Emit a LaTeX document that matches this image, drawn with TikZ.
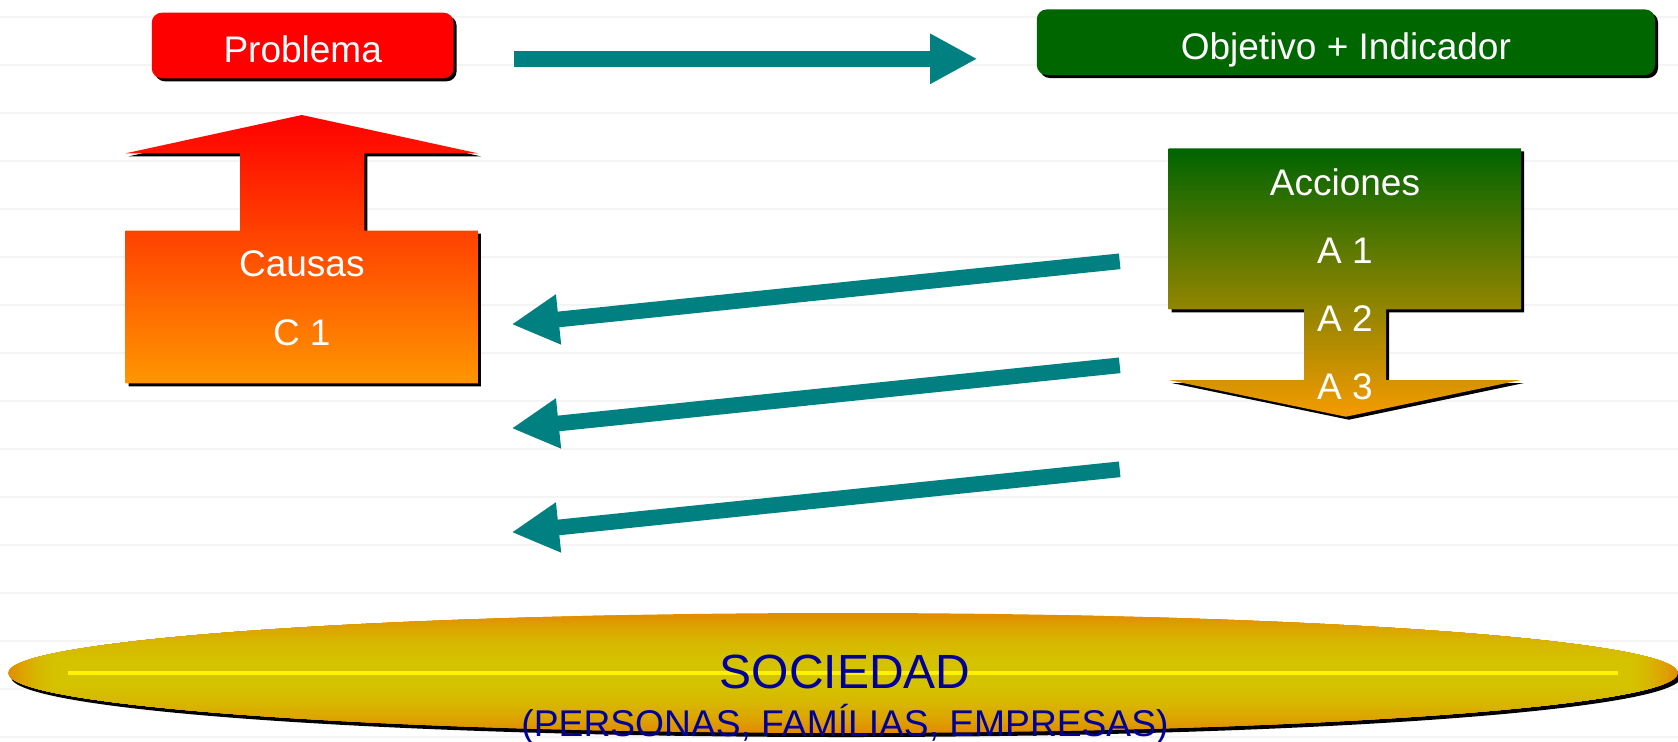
\documentclass[tikz,border=0pt]{standalone}
\usepackage{fontspec}
\setmainfont{Liberation Sans}
\usepackage{xcolor}
\usetikzlibrary{arrows.meta, shadows}

\definecolor{probred}{RGB}{255,0,0}
\definecolor{objgreen}{RGB}{0,102,0}
\definecolor{arrowteal}{RGB}{0,128,128}
\definecolor{causaorange}{RGB}{255,150,0}
\definecolor{accgreen}{RGB}{0,100,0}
\definecolor{accorange}{RGB}{245,155,0}
\definecolor{socout}{RGB}{226,140,0}
\definecolor{socin}{RGB}{212,196,0}
\definecolor{socblue}{RGB}{0,0,153}
\definecolor{ruleline}{RGB}{244,244,244}

\begin{document}
\begin{tikzpicture}[
  x=0.5pt, y=-0.5pt,
  font=\fontsize{18.5pt}{22pt}\selectfont,
  shadowed/.style={general shadow={fill=black, shadow xshift=1.5pt, shadow yshift=-1.5pt}},
  titlebox/.style={shadowed, rounded corners=5pt, text=white, inner sep=0pt, text height=17.2pt, text depth=0pt, minimum height=32.8pt},
  blocktext/.style={text=white, anchor=base, inner sep=0pt},
  soctext/.style={text=socblue, anchor=base, inner sep=0pt},
  line/.style={draw=arrowteal, line width=7.85pt, -{Triangle[length=23.6pt, width=23.5pt]}}
]
\useasboundingbox (0,0) rectangle (1678,741);

% Background: ruled lines
\foreach \k in {0,...,15}
  \draw[ruleline, line width=1pt] (0,{16.7+48*\k}) -- (1678,{16.7+48*\k});

% Row 1: Problema and Objetivo
\node[titlebox, fill=probred, minimum width=150.9pt] (prob) at (302.7,45.5) {Problema};
\node[titlebox, fill=objgreen, minimum width=309.1pt] (obj) at (1345.9,42.2) {Objetivo + Indicador};

\coordinate (probout) at (514,58.8);
\coordinate (objin) at (977.3,58.8);
\draw[line] (probout) -- (objin);

% Row 2: Causas (up) and Acciones (down)
\shade[shadowed, top color=probred, bottom color=causaorange]
  (301.8,115) -- (477.9,153.3) -- (364.3,153.3) -- (364.3,230.7) -- (477.9,230.7)
  -- (477.9,383.3) -- (125.7,383.3) -- (125.7,230.7) -- (240,230.7) -- (240,153.3)
  -- (125.7,153.3) -- cycle;
\node[blocktext] (causas) at (301.8,276.7) {Causas};
\node[blocktext] (c1) at (301.8,345) {C 1};

\shade[shadowed, top color=accgreen, bottom color=accorange]
  (1168.6,148.3) -- (1521,148.3) -- (1521,309.3) -- (1386,309.3) -- (1386,380)
  -- (1521,380) -- (1345.9,416.7) -- (1168.6,380) -- (1304,380) -- (1304,309.3)
  -- (1168.6,309.3) -- cycle;
\node[blocktext] (acciones) at (1345,195) {Acciones};
\foreach \t [count=\i] in {A 1, A 2, A 3}
  \node[blocktext] (acc\i) at (1345,{195+68*\i}) {\t};

% Arrows back from Acciones
\foreach \k in {0,1,2} {
  \coordinate (tail\k) at (1119.7,{261.3+104*\k});
  \coordinate (tip\k) at (511.6,{324.3+104*\k});
  \draw[line] (tail\k) -- (tip\k);
}

% Row 3: Sociedad
\fill[black] (846,677) ellipse [x radius=417.5pt, y radius=30pt];
\begin{scope}
  \clip (843,673) ellipse [x radius=417.5pt, y radius=30pt];
  \foreach \i in {0,...,29} {
    \pgfmathsetmacro\d{\i*2}
    \pgfmathsetmacro\p{100*(1-(1-\i/29)^2)}
    \fill[socin!\p!socout] ({8+\d},{613+\d}) rectangle ({1678-\d},{733-\d});
  }
  \fill[yellow] (68,671) rectangle (1618,675);
\end{scope}
\node[soctext, font=\fontsize{24pt}{28pt}\selectfont] (soc) at (845,688.3) {SOCIEDAD};
\node[soctext, font=\fontsize{18.6pt}{22pt}\selectfont] (socsub) at (845,736.7) {(PERSONAS, FAMÍLIAS, EMPRESAS)};

\end{tikzpicture}
\end{document}
